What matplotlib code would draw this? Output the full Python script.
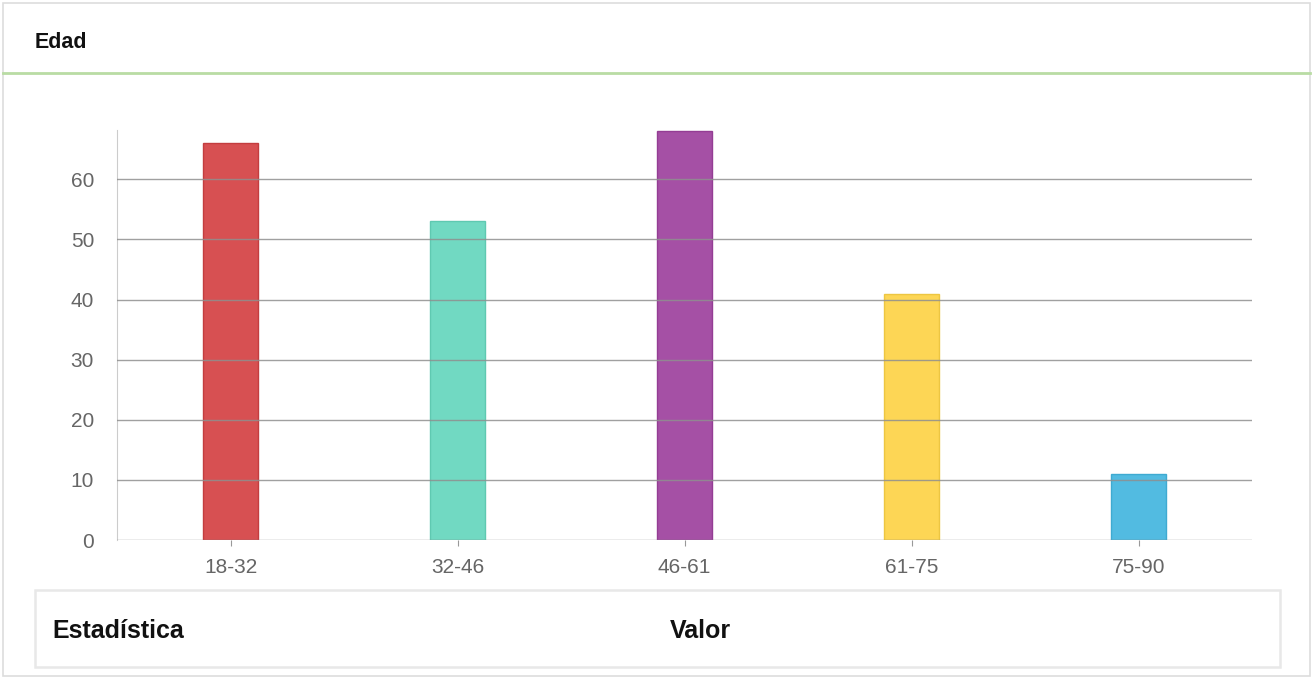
import matplotlib
matplotlib.use("Agg")
import matplotlib.pyplot as plt
from matplotlib.patches import Rectangle
from matplotlib.lines import Line2D

categories = ["18-32", "32-46", "46-61", "61-75", "75-90"]
values = [66, 53, 68, 41, 11]
fill_colors = ["#D64A4C", "#6CD8C0", "#A24AA2", "#FDD54F", "#4CB9E0"]
edge_colors = ["#C23A3C", "#5CC8B0", "#923A92", "#EDC53F", "#3CA9D0"]
yticks = [0, 10, 20, 30, 40, 50, 60]
title = "Edad"
table_headers = ["Estadística", "Valor"]

plt.rcParams['font.family'] = ['Liberation Sans', 'DejaVu Sans']

W, H = 1312, 677
fig = plt.figure(figsize=(W / 100, H / 100), dpi=100)
fig.patch.set_facecolor("white")

def fx(x):
    return x / W

def fy(y):
    return 1 - y / H

# outer panel border
fig.add_artist(Rectangle((fx(3), fy(676)), fx(1307), (673) / H, transform=fig.transFigure,
                         fill=False, edgecolor="#dddddd", linewidth=1.2))
# title
fig.text(fx(35), fy(42), title, fontsize=15.5, fontweight="bold", color="#111111",
         ha="left", va="center")
# green separator line
fig.add_artist(Line2D([fx(3), fx(1310)], [fy(73), fy(73)], transform=fig.transFigure,
                      color="#b9dca4", linewidth=2))

ax = fig.add_axes([fx(117), fy(540), fx(1252 - 117), (540 - 130) / H])
x = list(range(len(categories)))
for i, (v, fc, ec) in enumerate(zip(values, fill_colors, edge_colors)):
    ax.bar(i, v, width=0.245, color=fc, edgecolor=ec, linewidth=1, zorder=2, alpha=0.97)
ax.set_xlim(-0.5, len(categories) - 0.5)
ax.set_ylim(0, 68.2)
ax.set_yticks(yticks)
ax.set_yticklabels([str(t) for t in yticks])
ax.set_xticks(x)
ax.set_xticklabels(categories)
for t in yticks:
    ax.axhline(t, color="#8f8f8f", linewidth=1, zorder=3, alpha=0.85)
for s in ["top", "right"]:
    ax.spines[s].set_visible(False)
ax.spines["bottom"].set_visible(False)
ax.spines["left"].set_color("#cccccc")
ax.tick_params(axis="y", length=0, pad=16.5, labelsize=15, labelcolor="#666666")
ax.tick_params(axis="x", length=4, color="#999999", pad=9, labelsize=15, labelcolor="#666666")

# table box
fig.add_artist(Rectangle((fx(35), fy(667)), fx(1280 - 35), (667 - 590) / H, transform=fig.transFigure,
                         fill=False, edgecolor="#e8e8e8", linewidth=1.8))
fig.text(fx(52), fy(631), table_headers[0], fontsize=18, fontweight="bold", color="#111111",
         ha="left", va="center")
fig.text(fx(670), fy(631), table_headers[1], fontsize=18, fontweight="bold", color="#111111",
         ha="left", va="center")

fig.savefig("out.png", dpi=100, facecolor="white")
